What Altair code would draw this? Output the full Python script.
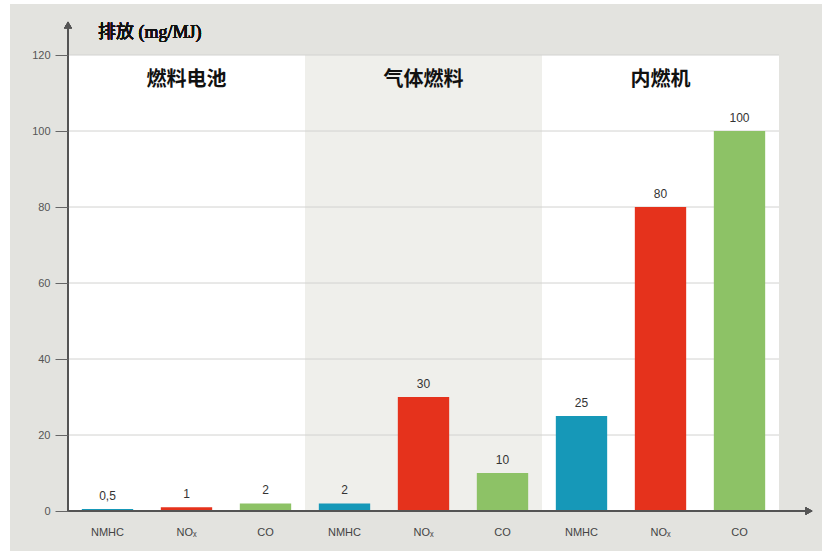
import altair as alt
import pandas as pd

groups = ["燃料电池", "气体燃料", "内燃机"]
pollutants = ["NMHC", "NOₓ", "CO"]
values = [0.5, 1, 2, 2, 30, 10, 25, 80, 100]
value_labels = ["0,5", "1", "2", "2", "30", "10", "25", "80", "100"]
y_ticks = [0, 20, 40, 60, 80, 100, 120]

poll_colors = ["#1698b8", "#e5321c", "#8dc266"]
panel_colors = ["#ffffff", "#efefeb", "#ffffff"]

rows = []
i = 0
for g in groups:
    for p in pollutants:
        rows.append({"key": f"{g}|{p}", "group": g, "pollutant": p,
                     "value": values[i], "label": value_labels[i]})
        i += 1
df = pd.DataFrame(rows)
keys = list(df["key"])
mid_keys = [f"{g}|{pollutants[1]}" for g in groups]
gdf = pd.DataFrame({"key": mid_keys, "group": groups})
tdf = pd.DataFrame({"tick": y_ticks})

W, H = 711, 456
xscale = alt.Scale(domain=keys, paddingInner=0, paddingOuter=0)
yscale = alt.Scale(domain=[0, 120], nice=False)

xenc = alt.X("key:N", scale=xscale, sort=keys,
             axis=alt.Axis(title=None, labelExpr="split(datum.label,'|')[1]",
                           labelAngle=0, ticks=False, domain=False,
                           labelPadding=15, labelFontSize=11, zindex=2,
                           labelColor="#444", labelFont="Liberation Sans"))

outer = alt.Chart(df).mark_rect(color="#e3e3df").encode(
    x=alt.value(-58), x2=alt.value(W + 43), y=alt.value(-51), y2=alt.value(H + 40))

panels = alt.Chart(df).mark_bar(width={"band": 1}).encode(
    x=xenc,
    y=alt.Y(datum=120, scale=yscale),
    y2=alt.Y2(datum=0),
    color=alt.Color("group:N", scale=alt.Scale(domain=groups, range=panel_colors), legend=None),
)

grid = alt.Chart(tdf).mark_rule(color="#d2d2d0", strokeWidth=1).encode(
    y=alt.Y("tick:Q", scale=yscale,
            axis=alt.Axis(title=None, values=y_ticks, grid=False, domain=False,
                          tickSize=13, tickColor="#666", labelPadding=5,
                          labelFontSize=11, labelColor="#555", zindex=2,
                          labelFont="Liberation Sans")))

bars = alt.Chart(df).mark_bar(width={"band": 0.65}).encode(
    x=xenc,
    y=alt.Y("value:Q", scale=yscale),
    fill=alt.Fill("pollutant:N", scale=alt.Scale(domain=pollutants, range=poll_colors), legend=None),
)

vlabels = alt.Chart(df).mark_text(baseline="bottom", dy=-6, fontSize=12,
                                  color="#333", font="Liberation Sans").encode(
    x=xenc, y=alt.Y("value:Q", scale=yscale), text="label:N")

glabels = alt.Chart(gdf).mark_text(fontSize=20, fontWeight="bold", color="#111",
                                   font="Noto Sans CJK SC", baseline="middle").encode(
    x=xenc, y=alt.value(25), text="group:N")

title = alt.Chart(df).mark_text(align="left", baseline="middle", fontSize=18,
                                color="#111", font="Liberation Serif, Noto Sans CJK SC").encode(
    x=alt.value(30), y=alt.value(-22), text=alt.value("排放 (mg/MJ)"))

yaxis_line = alt.Chart(df).mark_rule(color="#555", strokeWidth=1.5).encode(
    x=alt.value(0), y=alt.value(H), y2=alt.value(-28))
xaxis_line = alt.Chart(df).mark_rule(color="#555", strokeWidth=1.5).encode(
    x=alt.value(0), x2=alt.value(W + 28), y=alt.value(H))
yarrow = alt.Chart(df).mark_point(shape="triangle-up", filled=True, color="#555",
                                  size=60, opacity=1).encode(
    x=alt.value(0), y=alt.value(-30))
xarrow = alt.Chart(df).mark_point(shape="triangle-right", filled=True, color="#555",
                                  size=60, opacity=1).encode(
    x=alt.value(W + 30), y=alt.value(H))

chart = alt.layer(outer, panels, grid, bars, vlabels, glabels, title,
                  yaxis_line, xaxis_line, yarrow, xarrow).resolve_scale(
    color="independent", fill="independent"
).properties(
    width=W, height=H,
    autosize=alt.AutoSizeParams(type="none"),
    padding={"left": 68, "top": 55, "right": 43, "bottom": 40},
    background="#ffffff",
).configure_view(stroke=None)

chart.save("out.html", embed_options={"renderer": "svg", "actions": False})
